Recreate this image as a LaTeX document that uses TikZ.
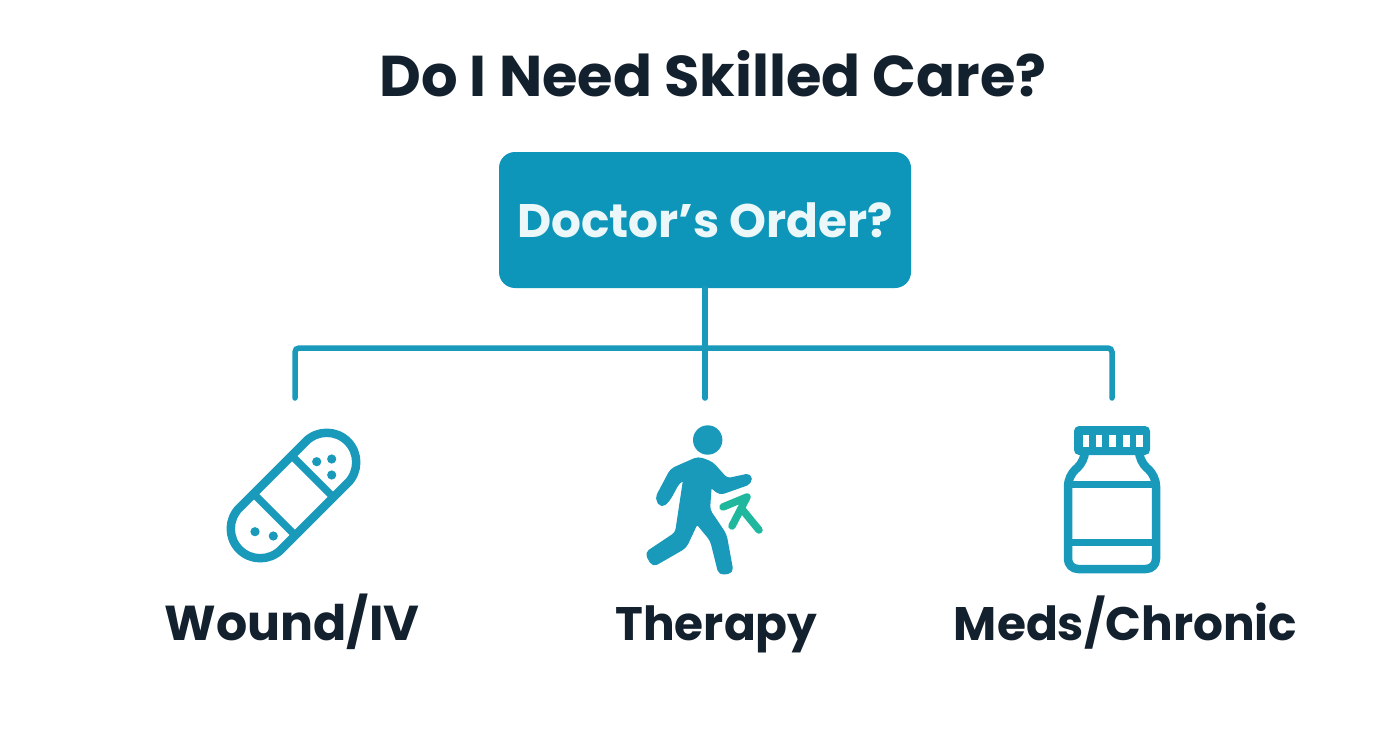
\documentclass[tikz,border=0pt]{standalone}
\usepackage{fontspec}
\setmainfont{Poppins}
\definecolor{teal1}{HTML}{1A9ABB}
\definecolor{boxc}{HTML}{0D96B9}
\definecolor{ink}{HTML}{13202E}
\definecolor{mint}{HTML}{1FB89E}
\tikzset{
 title/.style={font=\fontsize{57.5}{60}\selectfont\bfseries,text=ink,inner sep=0pt,anchor=base},
 label/.style={font=\fontsize{47}{52}\selectfont\bfseries,text=ink,inner sep=0pt,anchor=base},
 decision/.style={fill=boxc,rounded corners=16pt,minimum width=412pt,minimum height=136pt,inner sep=0pt,text=white!92!boxc,font=\fontsize{47}{52}\selectfont\bfseries},
 wire/.style={draw=teal1,line width=5.5pt,line cap=round,rounded corners=4pt},
 icon/.style={draw=teal1,line width=8.5pt,line join=round},
 dot/.style={fill=teal1,draw=none},
 body/.style={fill=teal1,draw=teal1,line width=3.5pt,line join=round,rounded corners=4pt},
 win/.style={fill=white,draw=none}
}
\begin{document}
\begin{tikzpicture}[x=1pt,y=-1pt]
\useasboundingbox[fill=white] (0,0) rectangle (1392,752);
\node[title] (t) at (713,96) {Do I Need Skilled Care?};
\node[decision] (q) at (705,220) {Doctor’s Order?};
\coordinate (bl) at (295,348);
\coordinate (br) at (1112,348);
\coordinate (a) at (295,398);
\coordinate (b) at (705,398);
\coordinate (c) at (1112,398);
\draw[wire] (a) -- (bl) -- (br) -- (c);
\draw[wire] (q.south) -- (b);
% bandage
\begin{scope}[shift={(293.5,495.5)},rotate=45]
\draw[icon,rounded corners=29.5pt] (-76.5,-29.5) rectangle (76.5,29.5);
\draw[icon,line width=7.5pt] (27,-29.5) -- (27,29.5) (-27,-29.5) -- (-27,29.5);
\end{scope}
\foreach \p in {(316.7,461.7),(331.7,459),(331.7,475),(255,531.7),(273.3,536)} \fill[dot] \p circle (4.6);
% runner
\fill[dot] (707.7,440) circle (14.7);
\path[body] (698.3,458.3) -- (671.7,470) -- (656.7,498.3) -- (661.7,506) -- (668.3,500) -- (678.3,481.7) -- (685,478.3) -- (676.7,533.3) -- (646.7,553.3) -- (653.3,565) -- (685,546.7) -- (696.7,521.7) -- (711.7,540) -- (720,573.3) -- (731.7,571.7) -- (725,535) -- (708.3,510) -- (710,485) -- (720,493.3) -- (750,482.7) -- (750,475) -- (726.7,480) -- (711.7,463.3) -- cycle;
\draw[mint,line width=7.5pt,line cap=round,line join=round] (723,507) -- (747,497) -- (732,526) (741,508) -- (759,530);
% bottle
\draw[icon,rounded corners=10pt] (1085,455) -- (1085,461) -- (1068,476) -- (1068,569) -- (1156,569) -- (1156,476) -- (1139,461) -- (1139,455);
\draw[icon,line width=7pt] (1068,484) -- (1156,484) (1068,542) -- (1156,542);
\fill[dot,rounded corners=5pt] (1074,426) rectangle (1150,455);
\foreach \x in {1082.5,1095.5,1109,1123,1136} \fill[win] (\x,434.5) rectangle ++(6.5,12);
\node[label,font=\fontsize{49}{52}\selectfont\bfseries] (w) at (292,640) {Wound/IV};
\node[label] (th) at (716.5,640) {Therapy};
\node[label] (m) at (1125.5,640) {Meds/Chronic};
\end{tikzpicture}
\end{document}
